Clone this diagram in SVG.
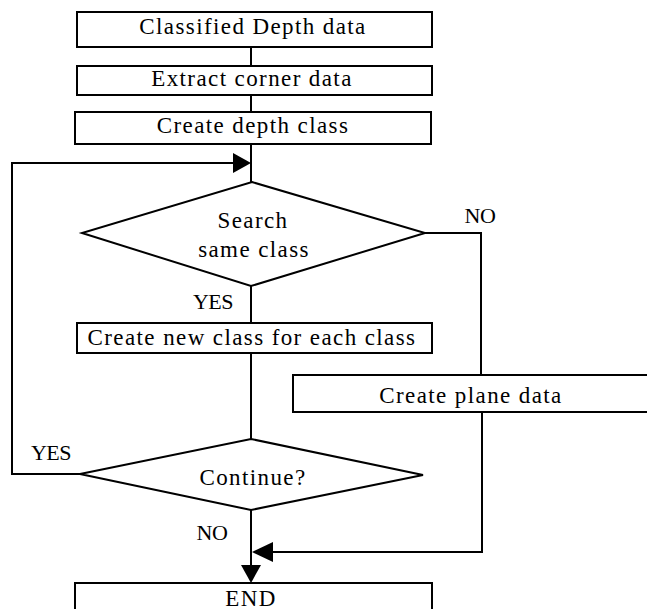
<svg xmlns="http://www.w3.org/2000/svg" width="647" height="609" viewBox="0 0 647 609">
<style>
.box{fill:#fff;stroke:#000;stroke-width:2}
.ln{fill:none;stroke:#000;stroke-width:2}
.t{font-family:"Liberation Serif","Times New Roman",serif;font-size:23px;fill:#000;text-anchor:middle;letter-spacing:1.4px}
.lbl{font-family:"Liberation Serif","Times New Roman",serif;font-size:22px;fill:#000;text-anchor:middle;letter-spacing:-0.5px}
.ah{fill:#000}
</style>
<g id="connectors">
<line class="ln" x1="251" y1="47" x2="251" y2="66"/>
<line class="ln" x1="251" y1="95" x2="251" y2="112"/>
<line class="ln" x1="251" y1="144" x2="251" y2="182"/>
<polyline class="ln" points="80,474 12,474 12,163 234,163"/>
<path class="ah" d="M233,153 L251,163 L233,173 Z"/>
<polyline class="ln" points="425,233 481,233 481,375"/>
<line class="ln" x1="251" y1="286" x2="251" y2="323"/>
<line class="ln" x1="251" y1="353" x2="251" y2="439"/>
<polyline class="ln" points="482,412 482,552 270,552"/>
<path class="ah" d="M273,542 L252,552 L273,562 Z"/>
<line class="ln" x1="251" y1="510" x2="251" y2="566"/>
<path class="ah" d="M241,565 L251,583 L261,565 Z"/>
<text class="lbl" x="480" y="223">NO</text>
<text class="lbl" x="213" y="309">YES</text>
<text class="lbl" x="51" y="460">YES</text>
<text class="lbl" x="212" y="540">NO</text>
</g>
<g id="n1"><rect class="box" x="77" y="12" width="355" height="35"/><text class="t" x="253" y="34">Classified Depth data</text></g>
<g id="n2"><rect class="box" x="77" y="66" width="355" height="29"/><text class="t" x="252" y="86">Extract corner data</text></g>
<g id="n3"><rect class="box" x="75" y="112" width="356" height="32"/><text class="t" x="253" y="133">Create depth class</text></g>
<g id="d1"><polygon class="box" points="252,182 425,233 251,286 82,233"/><text class="t" x="253" y="228">Search</text><text class="t" x="254" y="257">same class</text></g>
<g id="n4"><rect class="box" x="77" y="323" width="355" height="30"/><text class="t" x="252" y="345">Create new class for each class</text></g>
<g id="n5"><rect class="box" x="293" y="375" width="360" height="37"/><text class="t" x="471" y="403">Create plane data</text></g>
<g id="d2"><polygon class="box" points="251,439 423,475 251,510 80,474"/><text class="t" x="253" y="485">Continue?</text></g>
<g id="n6"><rect class="box" x="75" y="583" width="357" height="40"/><text class="t" x="251" y="606">END</text></g>
</svg>
